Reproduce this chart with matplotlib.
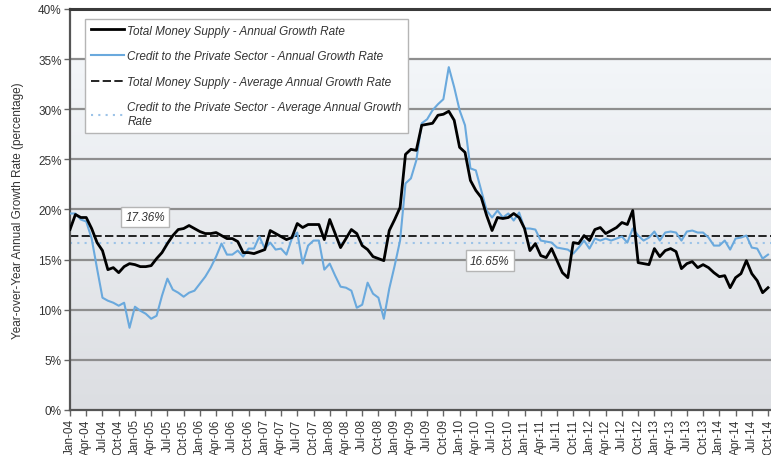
import numpy as np
import matplotlib
matplotlib.use("Agg")
import matplotlib.pyplot as plt
from matplotlib.colors import to_rgb

plt.rcParams['font.family'] = ['Liberation Sans', 'DejaVu Sans']

# Monthly data, Jan-04 .. Oct-14 (annual growth rate, %)
money_supply = [
    18.0, 19.5, 19.2, 19.2, 18.1, 16.7, 15.9, 14.0, 14.2, 13.7, 14.3, 14.6,   # 2004
    14.5, 14.3, 14.3, 14.4, 15.1, 15.7, 16.6, 17.4, 18.0, 18.1, 18.4, 18.1,   # 2005
    17.8, 17.6, 17.6, 17.7, 17.4, 17.1, 17.1, 16.8, 15.7, 15.7, 15.6, 15.8,   # 2006
    16.0, 17.9, 17.6, 17.3, 17.0, 17.2, 18.6, 18.2, 18.5, 18.5, 18.5, 17.0,   # 2007
    19.0, 17.6, 16.2, 17.1, 18.0, 17.6, 16.4, 16.0, 15.3, 15.1, 14.9, 17.9,   # 2008
    19.0, 20.2, 25.5, 26.0, 25.9, 28.4, 28.5, 28.6, 29.4, 29.5, 29.8, 28.9,   # 2009
    26.2, 25.7, 22.9, 21.9, 21.2, 19.4, 17.9, 19.2, 19.1, 19.2, 19.6, 19.2,   # 2010
    18.1, 15.9, 16.6, 15.4, 15.2, 16.1, 14.9, 13.7, 13.2, 16.7, 16.6, 17.4,   # 2011
    16.9, 18.0, 18.2, 17.6, 17.9, 18.2, 18.7, 18.5, 19.9, 14.7, 14.6, 14.5,   # 2012
    16.1, 15.3, 15.9, 16.1, 15.8, 14.1, 14.6, 14.8, 14.2, 14.5, 14.2, 13.7,   # 2013
    13.3, 13.4, 12.2, 13.2, 13.6, 14.9, 13.6, 12.9, 11.7, 12.2,               # 2014
]
private_credit = [
    19.6, 19.6, 19.0, 18.8, 17.1, 14.1, 11.2, 10.9, 10.7, 10.4, 10.7, 8.2,    # 2004
    10.3, 9.9, 9.6, 9.1, 9.4, 11.4, 13.1, 12.0, 11.7, 11.3, 11.7, 11.9,       # 2005
    12.6, 13.3, 14.2, 15.3, 16.6, 15.5, 15.5, 15.9, 15.3, 16.1, 16.1, 17.3,   # 2006
    16.1, 16.7, 16.0, 16.1, 15.5, 17.1, 17.7, 14.6, 16.4, 16.9, 16.9, 14.0,   # 2007
    14.6, 13.4, 12.3, 12.2, 11.9, 10.2, 10.5, 12.7, 11.6, 11.2, 9.1, 12.1,    # 2008
    14.4, 16.9, 22.6, 23.1, 24.9, 28.6, 29.0, 29.9, 30.5, 31.0, 34.2, 32.2,   # 2009
    29.9, 28.4, 24.1, 23.9, 21.9, 19.9, 19.2, 19.9, 19.2, 19.6, 18.9, 19.7,   # 2010
    18.1, 18.1, 18.0, 16.9, 16.8, 16.7, 16.2, 16.1, 16.0, 15.6, 16.2, 16.9,   # 2011
    16.1, 17.1, 16.9, 17.1, 16.9, 17.1, 17.3, 16.7, 18.1, 17.4, 16.9, 17.2,   # 2012
    17.8, 16.9, 17.7, 17.8, 17.7, 16.9, 17.8, 17.9, 17.7, 17.7, 17.2, 16.4,   # 2013
    16.4, 16.9, 16.0, 17.1, 17.2, 17.4, 16.2, 16.1, 15.1, 15.5,               # 2014
]
money_supply_avg = 17.36
private_credit_avg = 16.65

tick_labels = [
    "Jan-04", "Apr-04", "Jul-04", "Oct-04", "Jan-05", "Apr-05", "Jul-05", "Oct-05",
    "Jan-06", "Apr-06", "Jul-06", "Oct-06", "Jan-07", "Apr-07", "Jul-07", "Oct-07",
    "Jan-08", "Apr-08", "Jul-08", "Oct-08", "Jan-09", "Apr-09", "Jul-09", "Oct-09",
    "Jan-10", "Apr-10", "Jul-10", "Oct-10", "Jan-11", "Apr-11", "Jul-11", "Oct-11",
    "Jan-12", "Apr-12", "Jul-12", "Oct-12", "Jan-13", "Apr-13", "Jul-13", "Oct-13",
    "Jan-14", "Apr-14", "Jul-14", "Oct-14",
]
y_ticks = [0, 5, 10, 15, 20, 25, 30, 35, 40]

series_labels = [
    "Total Money Supply - Annual Growth Rate",
    "Credit to the Private Sector - Annual Growth Rate",
    "Total Money Supply - Average Annual Growth Rate",
    "Credit to the Private Sector - Average Annual Growth\nRate",
]

x = np.arange(len(money_supply))
x_right = 129.55

fig = plt.figure(figsize=(7.71, 4.56), dpi=100)
ax = fig.add_axes([0.0908, 0.0987, 0.9092, 0.8794])

# background gradient
n = 400
vals = np.linspace(40, 0, n)
bottom_c = np.array(to_rgb("#dcdee2"))
top_c = np.array(to_rgb("#f3f6f9"))
img = np.zeros((n, 1, 3))
for i, v in enumerate(vals):
    if v > 35:
        img[i, 0] = [1, 1, 1]
    else:
        t = v / 35.0
        img[i, 0] = bottom_c + (top_c - bottom_c) * t
ax.imshow(img, extent=[0, x_right, 0, 40], aspect='auto', zorder=0, interpolation='bilinear')

for yv in y_ticks[1:-1]:
    ax.axhline(yv, color="#8e8e8e", lw=1.6, zorder=1)

ax.plot(x, private_credit, color="#6aa9dd", lw=1.5, zorder=3, label=series_labels[1])
ax.plot(x, money_supply, color="black", lw=2.0, zorder=4, label=series_labels[0])
ax.plot([0, x_right], [money_supply_avg] * 2, color="black", lw=1.2, ls=(0, (5, 2)),
        zorder=2, label=series_labels[2])
ax.plot([0, x_right], [private_credit_avg] * 2, color="#9cc3e8", lw=1.5, ls=(0, (1, 2.5)),
        zorder=2, label=series_labels[3])

box = dict(boxstyle="square,pad=0.35", fc="white", ec="#b5b5b5", lw=1)
ax.text(13.9, 19.25, f"{money_supply_avg:.2f}%", ha="center", va="center", fontsize=8.5,
        style="italic", color="#333333", bbox=box, zorder=5)
ax.text(77.6, 14.9, f"{private_credit_avg:.2f}%", ha="center", va="center", fontsize=8.5,
        style="italic", color="#333333", bbox=box, zorder=5)

ax.set_xlim(0, x_right)
ax.set_ylim(0, 40)
ax.set_xticks(np.arange(0, len(tick_labels) * 3, 3))
ax.set_xticklabels(tick_labels, rotation=90, fontsize=8.5, color="#333333")
ax.set_yticks(y_ticks)
ax.set_yticklabels([f"{v}%" for v in y_ticks], fontsize=8.5, color="#333333")
ax.tick_params(axis="both", direction="out", length=4, width=1, color="#666666", pad=2)
ax.set_ylabel("Year-over-Year Annual Growth Rate (percentage)", fontsize=8.5,
              color="#333333", labelpad=10)

for s in ["left", "bottom"]:
    ax.spines[s].set_color("#555555")
    ax.spines[s].set_linewidth(1.6)
ax.spines["top"].set_color("#3a3a3a")
ax.spines["top"].set_linewidth(2.2)
ax.spines["right"].set_visible(False)

handles, labels = ax.get_legend_handles_labels()
order = [1, 0, 2, 3]
leg = ax.legend([handles[i] for i in order], [labels[i] for i in order],
                loc="upper left", bbox_to_anchor=(0.021, 0.976), borderaxespad=0,
                fontsize=8.5, frameon=True, fancybox=False, handlelength=2.8,
                handletextpad=0.3, labelspacing=1.15, borderpad=0.5,
                prop={"style": "italic", "size": 8.5})
leg.get_frame().set_edgecolor("#b5b5b5")
leg.get_frame().set_linewidth(1)
leg.get_frame().set_facecolor("white")
leg.get_frame().set_alpha(1)
for t in leg.get_texts():
    t.set_color("#333333")
leg.set_zorder(6)

fig.savefig("out.png", dpi=100)
